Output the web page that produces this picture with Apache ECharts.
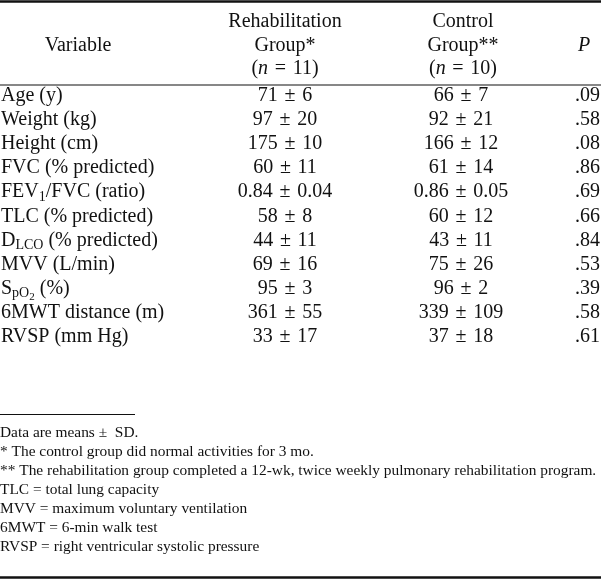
<!DOCTYPE html>
<html>
<head>
<meta charset="utf-8">
<script src="https://cdn.jsdelivr.net/npm/echarts@6/dist/echarts.min.js"></script>
<style>html,body{margin:0;padding:0;background:#fff}#c{width:601px;height:581px}</style>
</head>
<body>
<div id="c"></div>
<script>
// ---- data ----
const variables = ['Age (y)', 'Weight (kg)', 'Height (cm)', 'FVC (% predicted)', 'FEV{sub|1}/FVC (ratio)',
  'TLC (% predicted)', 'D{sub|LCO} (% predicted)', 'MVV (L/min)', 'S{sub|pO}{sub2|2} (%)',
  '6MWT distance (m)', 'RVSP (mm Hg)'];
const rehabMean = [71, 97, 175, 60, 0.84, 58, 44, 69, 95, 361, 33];
const rehabSD = [6, 20, 10, 11, 0.04, 8, 11, 16, 3, 55, 17];
const controlMean = [66, 92, 166, 61, 0.86, 60, 43, 75, 96, 339, 37];
const controlSD = [7, 21, 12, 14, 0.05, 12, 11, 26, 2, 109, 18];
const pValues = [0.09, 0.58, 0.08, 0.86, 0.69, 0.66, 0.84, 0.53, 0.39, 0.58, 0.61];
const rehabN = 11;
const controlN = 10;
const headVariable = 'Variable';
const headRehab = ['Rehabilitation', 'Group*'];
const headControl = ['Control', 'Group**'];
const headP = 'P';
const footnotes = [
  'Data are means \u00b1  SD.',
  '* The control group did normal activities for 3 mo.',
  '** The rehabilitation group completed a 12-wk, twice weekly pulmonary rehabilitation program.',
  'TLC = total lung capacity',
  'MVV = maximum voluntary ventilation',
  '6MWT = 6-min walk test',
  'RVSP = right ventricular systolic pressure'
];

// ---- layout ----
const FONT = '"Liberation Serif", "Times New Roman", serif';
const INK = '#111';
const W = 601, H = 581;
const COL = { label: 1, rehab: 285, control: 461, p: 600 };
const FS = 20, FN = 15.4;
const SP = '\u2004';

function fmt(v) { return Number.isInteger(v) ? String(v) : v.toFixed(2); }
function fmtP(v) { return v.toFixed(2).replace(/^0/, ''); }

const rich = {
  sub: { fontSize: 14, fontFamily: FONT, color: INK, padding: [10, 0, 0, 0] },
  sub2: { fontSize: 11, fontFamily: FONT, color: INK, padding: [17, 0, 0, 0] },
  i: { fontSize: FS, fontFamily: FONT, color: INK, fontStyle: 'italic' }
};

function textSeries(name, texts, xKey, align) {
  return {
    type: 'custom',
    name: name,
    coordinateSystem: 'cartesian2d',
    data: texts.map((t, i) => [i, t]),
    encode: { y: 0 },
    silent: true,
    renderItem: function (params, api) {
      const idx = api.value(0);
      const p = api.coord([COL[xKey], idx]);
      return {
        type: 'text',
        style: {
          text: texts[idx],
          x: p[0], y: p[1],
          align: align, textAlign: align,
          verticalAlign: 'middle', textVerticalAlign: 'middle',
          fontSize: FS, fontFamily: FONT, fill: INK,
          rich: rich
        }
      };
    }
  };
}

const rehabTexts = rehabMean.map((m, i) => fmt(m) + SP + '\u00b1' + SP + fmt(rehabSD[i]));
const controlTexts = controlMean.map((m, i) => fmt(m) + SP + '\u00b1' + SP + fmt(controlSD[i]));
const pTexts = pValues.map(fmtP);

function gText(text, x, y, align, size) {
  return {
    type: 'text', silent: true,
    style: {
      text: text, x: x, y: y,
      align: align, textAlign: align,
      verticalAlign: 'middle', textVerticalAlign: 'middle',
      fontSize: size, fontFamily: FONT, fill: INK, rich: rich
    }
  };
}
function gLine(x1, y1, x2, y2, w) {
  return { type: 'line', silent: true, shape: { x1, y1, x2, y2 }, style: { stroke: INK, lineWidth: w } };
}

const graphics = [
  gLine(0, 1.5, W, 1.5, 2.5),
  gLine(0, 85, W, 85, 1.2),
  gLine(0, 414.5, 135, 414.5, 1),
  gLine(0, 577.5, W, 577.5, 2.5),
  gText(headVariable, 78, 46, 'center', FS),
  gText(headRehab[0], COL.rehab, 22, 'center', FS),
  gText(headRehab[1], COL.rehab, 46, 'center', FS),
  gText('({i|n}' + SP + '=' + SP + rehabN + ')', COL.rehab, 69, 'center', FS),
  gText(headControl[0], 463, 22, 'center', FS),
  gText(headControl[1], 463, 46, 'center', FS),
  gText('({i|n}' + SP + '=' + SP + controlN + ')', 463, 69, 'center', FS),
  gText('{i|' + headP + '}', 584, 46, 'center', FS)
];
footnotes.forEach((t, i) => graphics.push(gText(t, 0, 433 + i * 19, 'left', FN)));

const chart = echarts.init(document.getElementById('c'), null, { renderer: 'canvas' });
chart.setOption({
  backgroundColor: '#fff',
  animation: false,
  grid: { left: 0, right: 0, top: 84, height: 24.05 * variables.length, containLabel: false },
  xAxis: { type: 'value', min: 0, max: W, show: false },
  yAxis: { type: 'category', data: variables, inverse: true, show: false, boundaryGap: true },
  series: [
    textSeries('Variable', variables, 'label', 'left'),
    textSeries('Rehabilitation', rehabTexts, 'rehab', 'center'),
    textSeries('Control', controlTexts, 'control', 'center'),
    textSeries('P', pTexts, 'p', 'right')
  ],
  graphic: graphics
});
</script>
</body>
</html>
